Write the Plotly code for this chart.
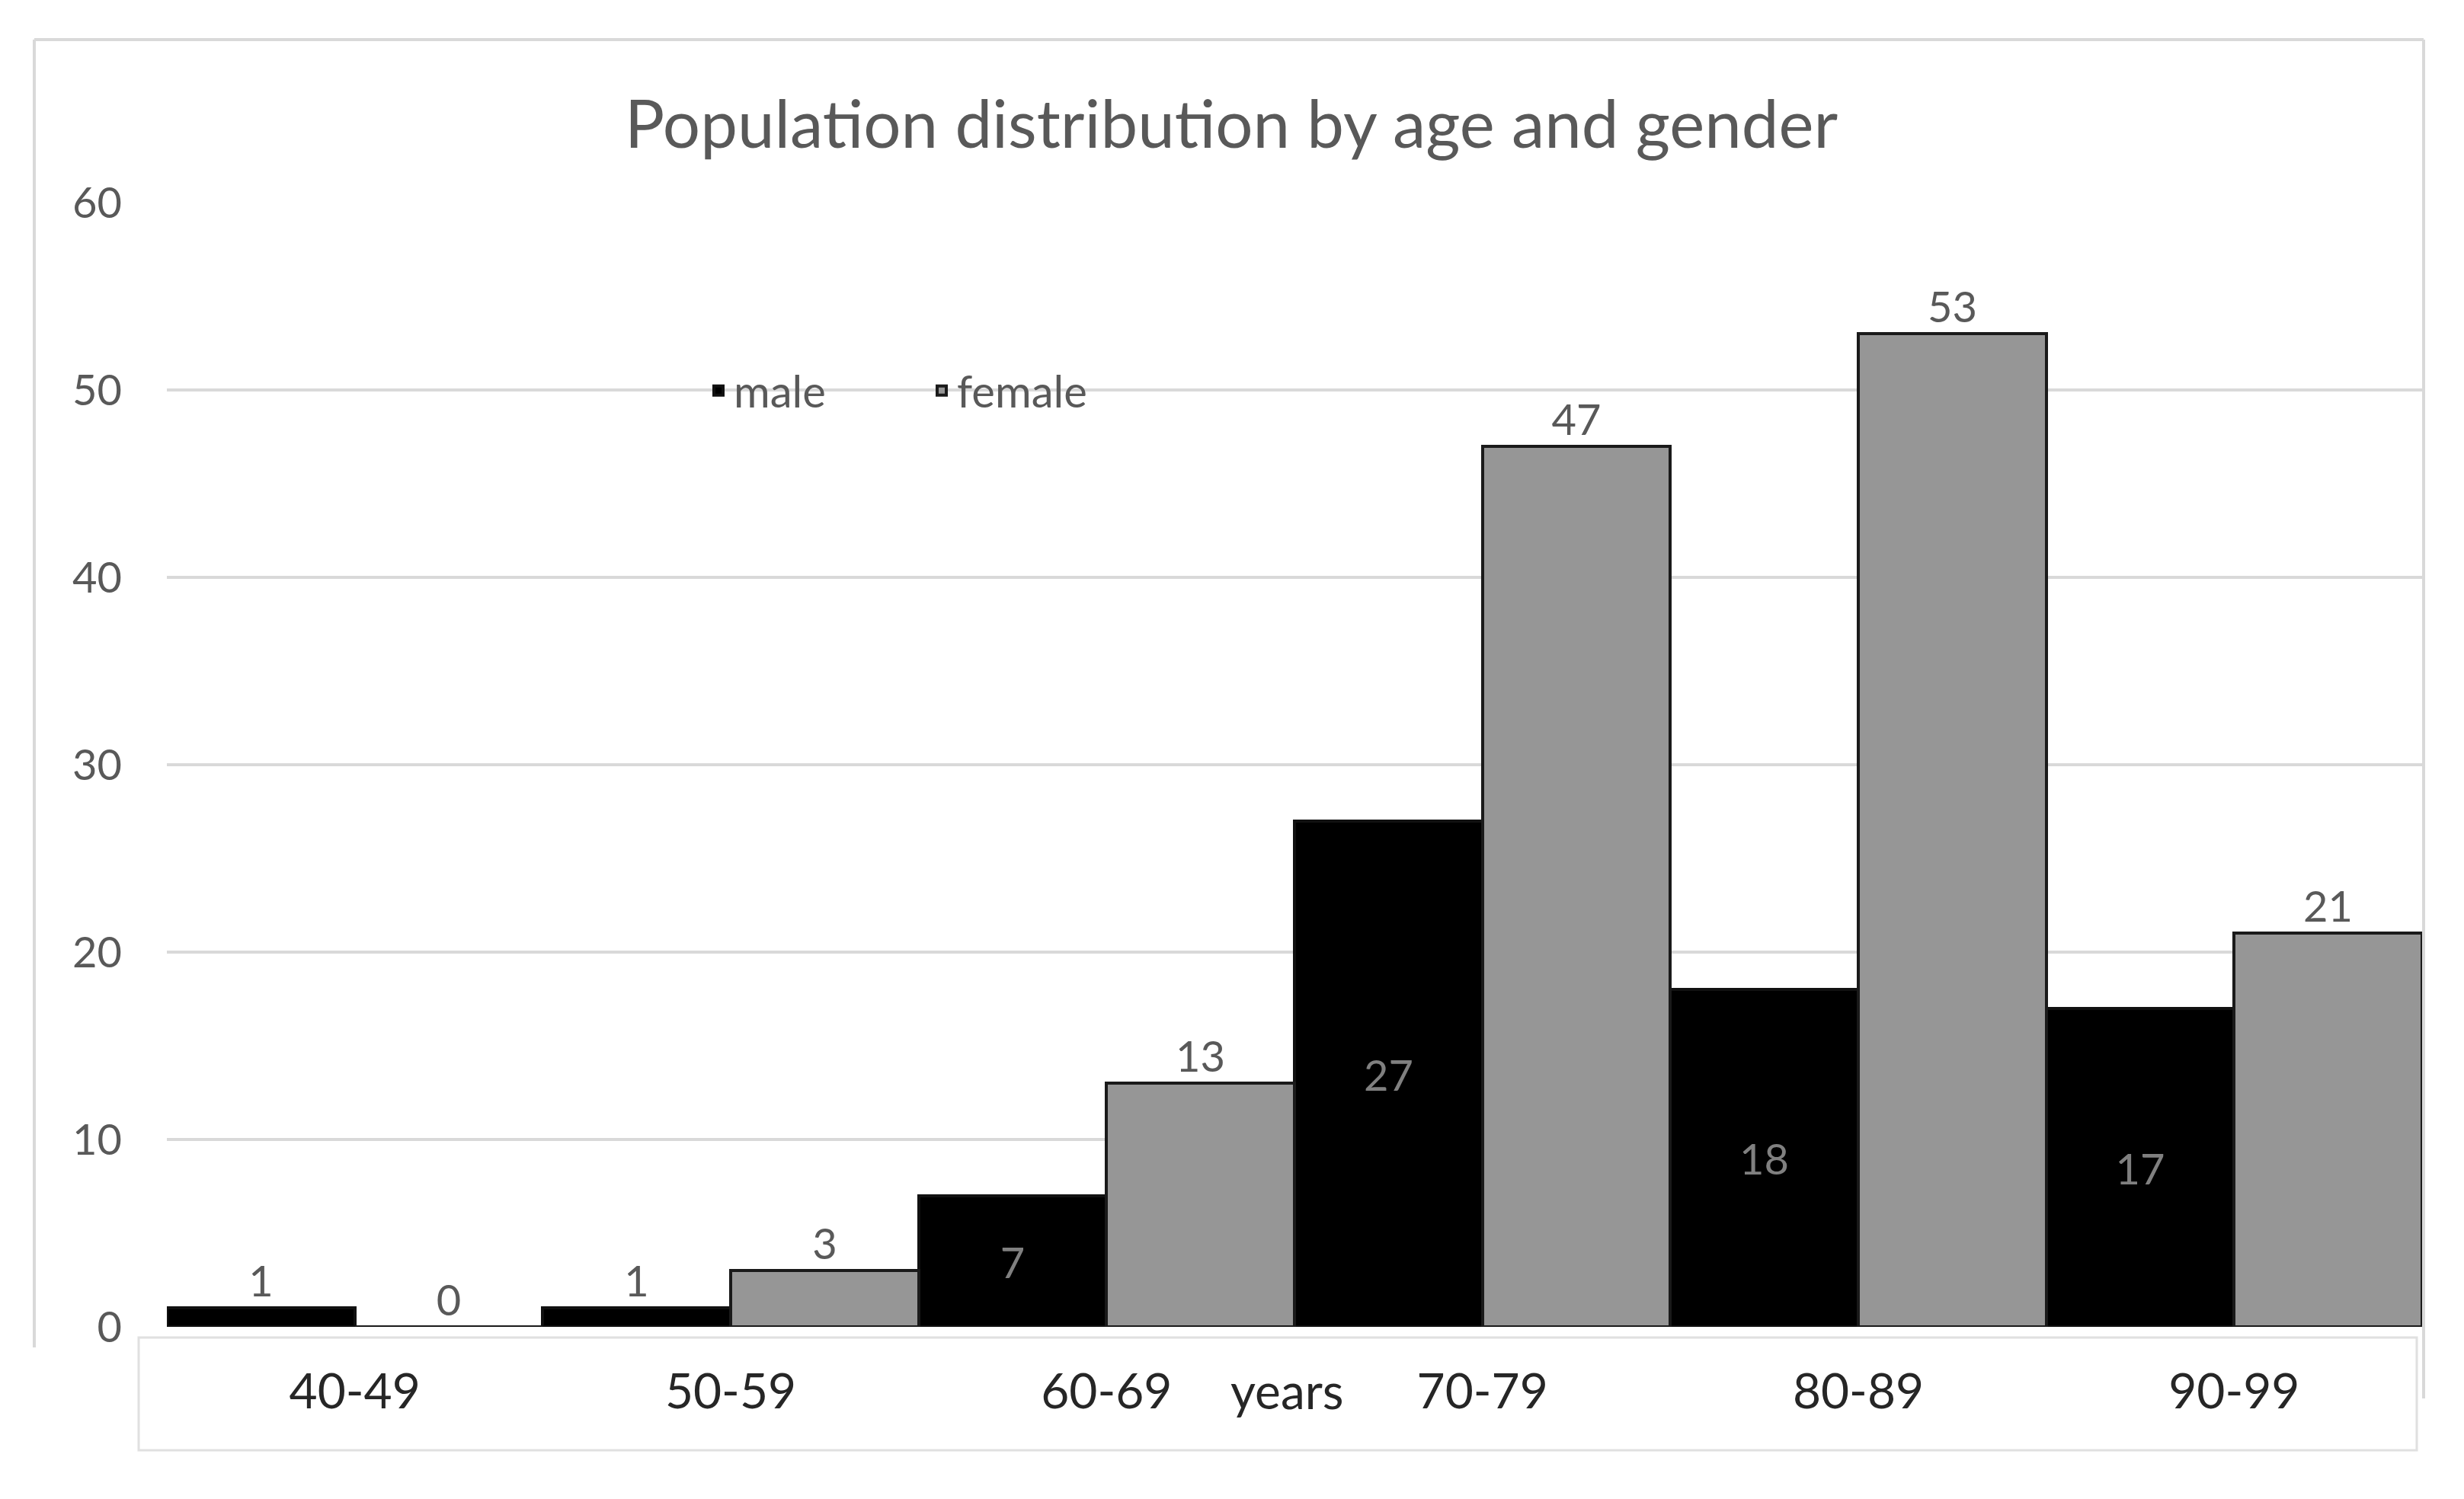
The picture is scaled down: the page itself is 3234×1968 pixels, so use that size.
import plotly.graph_objects as go

# ---- data ----
age_groups = ["40-49", "50-59", "60-69", "70-79", "80-89", "90-99"]
male = [1, 1, 7, 27, 18, 17]
female = [0, 3, 13, 47, 53, 21]
y_ticks = [0, 10, 20, 30, 40, 50, 60]

W, H = 3234, 1968
OFF = 9  # page body offset
FONT = "Lato"


def px_x(p):
    return (p - OFF) / W


def px_y(p):
    return 1 - (p - OFF) / H


fig = go.Figure()

fig.add_trace(go.Bar(
    x=age_groups, y=male, name="male",
    marker=dict(color="#000000", line=dict(color="#111111", width=4)),
    text=male, textposition="auto", insidetextanchor="middle",
    insidetextfont=dict(family=FONT, size=56, color="#808080"),
    outsidetextfont=dict(family=FONT, size=56, color="#595959"),
    textangle=0, cliponaxis=False,
))
fig.add_trace(go.Bar(
    x=age_groups, y=female, name="female",
    marker=dict(color="#969696", line=dict(color="#1a1a1a", width=4)),
    text=female, textposition="outside",
    outsidetextfont=dict(family=FONT, size=56, color="#595959"),
    textangle=0, cliponaxis=False,
))

shapes = [
    # x-axis label box
    dict(type="rect", xref="paper", yref="paper",
         x0=px_x(183), x1=px_x(3173), y0=px_y(1905), y1=px_y(1757),
         line=dict(color="#e0e0e0", width=3), fillcolor="white", layer="below"),
    # outer chart border
    dict(type="line", xref="paper", yref="paper",
         x0=px_x(46), x1=px_x(3182), y0=px_y(53), y1=px_y(53),
         line=dict(color="#d9d9d9", width=4), layer="below"),
    dict(type="line", xref="paper", yref="paper",
         x0=px_x(46), x1=px_x(46), y0=px_y(53), y1=px_y(1770),
         line=dict(color="#d9d9d9", width=4), layer="below"),
    dict(type="line", xref="paper", yref="paper",
         x0=px_x(3182), x1=px_x(3182), y0=px_y(53), y1=px_y(1837),
         line=dict(color="#d9d9d9", width=4), layer="below"),
]

fig.update_layout(
    width=W, height=H,
    margin=dict(l=0, r=0, t=0, b=0, autoexpand=False),
    paper_bgcolor="white", plot_bgcolor="white",
    barmode="group", bargap=0, bargroupgap=0,
    font=dict(family=FONT, color="#595959"),
    title=dict(text="Population distribution by age and gender",
               font=dict(family=FONT, size=87, color="#595959"),
               x=px_x(1617), xanchor="center", xref="paper",
               y=px_y(165), yanchor="middle", yref="paper"),
    legend=dict(orientation="h", xref="paper", yref="paper",
                x=px_x(924), xanchor="left", y=px_y(514), yanchor="middle",
                font=dict(family=FONT, size=58, color="#595959"),
                bgcolor="rgba(0,0,0,0)", entrywidth=248),
    xaxis=dict(domain=[px_x(220), px_x(3180)], showgrid=False, showline=False,
               ticks="", ticklabelstandoff=42, automargin=False,
               tickfont=dict(family=FONT, size=64, color="#262626")),
    yaxis=dict(domain=[px_y(1743), px_y(267)], range=[0, 60], automargin=False,
               tickvals=y_ticks, showgrid=True, gridcolor="#d9d9d9", gridwidth=4,
               zeroline=False, showline=False, ticks="", ticklabelstandoff=58,
               tickfont=dict(family=FONT, size=56, color="#595959")),
    shapes=shapes,
    annotations=[dict(text="years", xref="x", yref="paper", x=2.48, y=px_y(1826),
                      xanchor="center", yanchor="middle", showarrow=False,
                      font=dict(family=FONT, size=64, color="#262626"))],
)

fig.write_html("out.html")
